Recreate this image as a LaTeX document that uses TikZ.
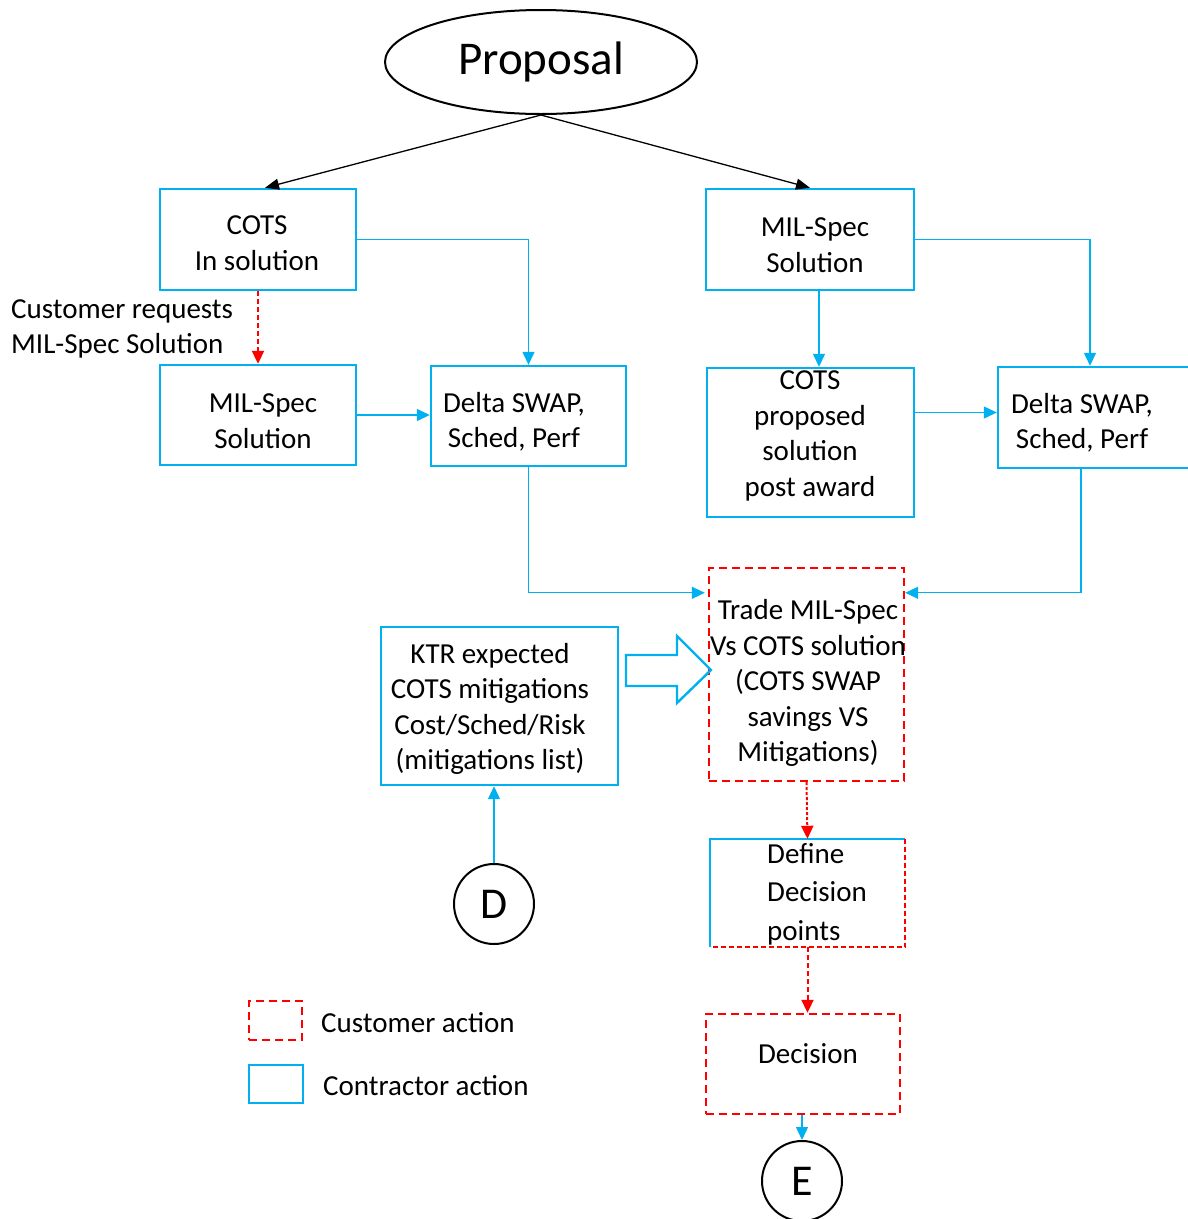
\documentclass[tikz,border=0pt]{standalone}
\usepackage{fontspec}
\setmainfont{Carlito}
\usetikzlibrary{arrows.meta,calc,shapes.geometric}
\definecolor{cblue}{HTML}{00B0F0}
\definecolor{cred}{HTML}{FF0000}
\begin{document}
\begin{tikzpicture}[x=1pt,y=-1pt,
  txt/.style={font=\fontsize{29}{35.5}\selectfont, align=center, inner sep=0pt},
  cbox/.style={draw=cblue, line width=2.4pt, inner sep=0pt},
  ubox/.style={draw=cred, line width=2.4pt, dash pattern=on 8pt off 5pt, inner sep=0pt},
  blink/.style={draw=cblue, line width=1.3pt, -{Triangle[length=13pt,width=12pt]}},
  rlink/.style={draw=cred, color=cred, line width=2pt, dash pattern=on 5pt off 3pt, -{Triangle[length=13pt,width=12pt]}},
  klink/.style={draw=black, line width=1.3pt, -{Triangle[length=14pt,width=11pt]}},
  circ/.style={draw=black, line width=2pt, circle, minimum size=80pt, inner sep=0pt, font=\fontsize{44}{44}\selectfont}
]
\useasboundingbox (0,0) rectangle (1188,1219);

% top ellipse
\node[draw=black, line width=2pt, ellipse, minimum width=312pt, minimum height=104pt,
      font=\fontsize{47}{47}\selectfont] (prop) at (541,62) {Proposal};

% first row
\node[cbox, minimum width=196pt, minimum height=101pt] (cots) at (258,239.5) {};
\node[txt] (cotst) at (257,243) {COTS\\In solution};
\node[cbox, minimum width=208pt, minimum height=101pt] (mil2) at (810,239.5) {};
\node[txt] (mil2t) at (815,245) {MIL-Spec\\Solution};

\node[txt, align=left, anchor=west] (req) at (11,329) {Customer requests\\MIL-Spec Solution};

% second row
\node[cbox, minimum width=196pt, minimum height=100pt] (mil1) at (258,415) {};
\node[txt] (mil1t) at (263,421) {MIL-Spec\\Solution};
\node[cbox, minimum width=195pt, minimum height=100pt] (del1) at (528.5,416) {};
\node[txt] (del1t) at (514,422) {Delta SWAP,\\Sched, Perf};
\node[cbox, minimum width=207pt, minimum height=149pt] (prp) at (810.5,442.5) {};
\node[txt] (prpt) at (810,436) {COTS\\proposed\\solution\\post award};
\node[cbox, minimum width=194pt, minimum height=101pt] (del2) at (1095,417.5) {};
\node[txt] (del2t) at (1082,423) {Delta SWAP,\\Sched, Perf};

% trade study
\node[ubox, minimum width=195pt, minimum height=213pt] (trade) at (806.5,674.5) {};
\node[txt] (tradet) at (808,683) {Trade MIL-Spec\\Vs COTS solution\\(COTS SWAP\\savings VS\\Mitigations)};

% contractor mitigations
\node[cbox, minimum width=237pt, minimum height=158pt] (ktr) at (499.5,706) {};
\node[txt] (ktrt) at (490,709) {KTR expected\\COTS mitigations\\Cost/Sched/Risk\\(mitigations list)};
\node[circ] (d) at (494,904) {D};

% decision points box: contractor border left/top, customer border right/bottom
\node[minimum width=195pt, minimum height=108pt, inner sep=0pt] (def) at (807.5,893) {};
\draw[cblue, line width=1.6pt] (def.south west) -- (def.north west) -- (def.north east);
\draw[draw=cred, line width=1.9pt, dash pattern=on 5pt off 3pt] (def.north east) -- (def.south east) -- (def.south west);
\node[txt, align=left, anchor=west, font=\fontsize{29}{38.5}\selectfont] (deft) at (767,894) {Define\\Decision\\points};

\node[ubox, minimum width=194pt, minimum height=100pt] (dec) at (803,1064) {};
\node[txt] (dect) at (808,1054) {Decision};
\node[circ] (e) at (802,1181) {E};

% legend
\node[ubox, minimum width=53pt, minimum height=39pt] (lg1) at (275.5,1020.5) {};
\node[txt, anchor=west] (lg1t) at (321,1023) {Customer action};
\node[cbox, minimum width=54pt, minimum height=38pt] (lg2) at (276,1084) {};
\node[txt, anchor=west] (lg2t) at (323,1086) {Contractor action};

% connectors
\draw[klink] (prop.south) -- ($(cots.north)+(7,0)$);
\draw[klink] (prop.south) -- (mil2.north);
\draw[blink] (cots.east) -| (del1.north);
\draw[rlink] (cots.south) -- (mil1.north);
\draw[blink] (mil1.east) -- (mil1.east -| del1.west);
\draw[blink] (mil2.east) -| ($(del2.north)+(-5,0)$);
\draw[blink] ($(mil2.south)+(9,0)$) -- ($(prp.north)+(8.5,0)$);
\draw[blink] ($(prp.east)+(0,-30)$) -- ($(del2.west)+(0,-5)$);
\coordinate (tl) at ($(trade.north west)+(0,26)$);
\coordinate (tr) at ($(trade.north east)+(0,26)$);
\draw[blink] (del1.south) |- ($(tl)+(-3,0)$);
\draw[blink] ($(del2.south)+(-14,0)$) |- (tr);
\draw[blink] (d.north) -- (d.north |- ktr.south);
\draw[rlink, dash pattern=on 3pt off 2pt] (trade.south) -- (def.north);
\draw[rlink] (def.south) -- (def.south |- dec.north);
\draw[blink] (e.north |- dec.south) -- (e.north);

% hollow block arrow from mitigations into the trade study
\draw[cblue, line width=2.4pt, line join=miter]
  (626,655) -- (677,655) -- (677,636) -- (711,670) -- (677,703) -- (677,686) -- (626,686) -- cycle;
\end{tikzpicture}
\end{document}
